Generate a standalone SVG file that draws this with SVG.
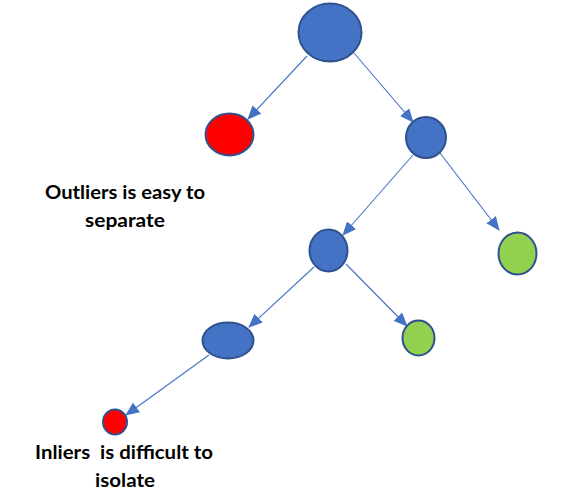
<svg xmlns="http://www.w3.org/2000/svg" width="562" height="503" viewBox="0 0 562 503">
<style>
.n{stroke:#2F528F;stroke-width:2}
.b{fill:#4472C4}
.r{fill:#FF0000}
.g{fill:#92D050}
.e{stroke:#4472C4;stroke-width:1.1;fill:none}
.t{font-family:Lato,"Liberation Sans",sans-serif;font-weight:bold;font-size:18px;fill:#000;text-anchor:middle}
</style>
<defs>
<marker id="ah" markerUnits="userSpaceOnUse" markerWidth="14" markerHeight="12" viewBox="0 0 14 12" refX="13" refY="6" orient="auto">
<path d="M0,0 L14,6 L0,12 z" fill="#4472C4"/>
</marker>
</defs>
<rect width="562" height="503" fill="#fff"/>
<g id="edges">
<line class="e" x1="307" y1="56" x2="248" y2="119" marker-end="url(#ah)"/>
<line class="e" x1="354" y1="53" x2="413" y2="122" marker-end="url(#ah)"/>
<line class="e" x1="413" y1="155" x2="343" y2="235" marker-end="url(#ah)"/>
<line class="e" x1="440" y1="153" x2="499" y2="230" marker-end="url(#ah)"/>
<line class="e" x1="314" y1="267" x2="249" y2="327" marker-end="url(#ah)"/>
<line class="e" x1="346" y1="264" x2="407" y2="326" marker-end="url(#ah)"/>
<line class="e" x1="209" y1="355" x2="126" y2="415" marker-end="url(#ah)"/>
</g>
<g id="root"><ellipse class="n b" cx="330" cy="32.5" rx="31.5" ry="29"/></g>
<g id="outlier"><ellipse class="n r" cx="229.5" cy="134.5" rx="24" ry="21"/></g>
<g id="node2"><ellipse class="n b" cx="426" cy="137.5" rx="20" ry="20.5"/></g>
<g id="node3"><ellipse class="n b" cx="328.5" cy="250.5" rx="19" ry="21"/></g>
<g id="leafRight"><ellipse class="n g" cx="517.5" cy="253.5" rx="19" ry="21"/></g>
<g id="node4"><ellipse class="n b" cx="228" cy="340.5" rx="25.5" ry="18"/></g>
<g id="leafMid"><ellipse class="n g" cx="418.5" cy="338" rx="16" ry="17.5"/></g>
<g id="inlier"><ellipse class="n r" cx="115" cy="422" rx="12" ry="12.5"/></g>
<g id="label1">
<text class="t" x="125" y="199" textLength="160" lengthAdjust="spacingAndGlyphs">Outliers is easy to</text>
<text class="t" x="125" y="227" textLength="80" lengthAdjust="spacingAndGlyphs">separate</text>
</g>
<g id="label2">
<text class="t" x="124" y="459" textLength="178" lengthAdjust="spacingAndGlyphs" xml:space="preserve">Inliers  is difficult to</text>
<text class="t" x="125" y="487" textLength="60" lengthAdjust="spacingAndGlyphs">isolate</text>
</g>
</svg>
